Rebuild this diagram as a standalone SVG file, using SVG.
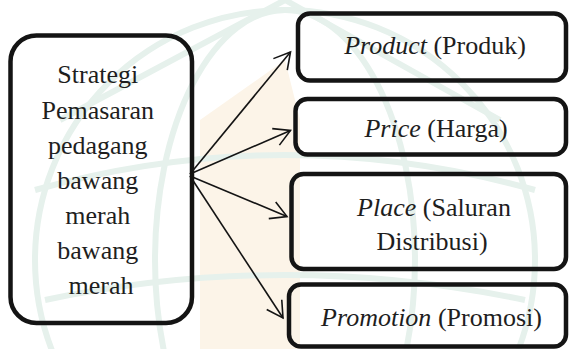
<svg xmlns="http://www.w3.org/2000/svg" width="569" height="349" viewBox="0 0 569 349">
  <style>
    .box { fill: none; stroke: #141414; stroke-width: 4.5; }
    text { font-family: "Liberation Serif", "DejaVu Serif", serif; font-size: 26px; fill: #1e1e1e; text-anchor: middle; }
    .it { font-style: italic; }
    .conn { stroke: #141414; stroke-width: 1.6; fill: none; }
    .wm-g { fill: none; stroke: #e6f1ec; stroke-width: 6; }
    .wm-o { fill: #fcf4e8; }
  </style>
  <defs>
    <marker id="ah" markerWidth="22" markerHeight="22" refX="19" refY="11" orient="auto" markerUnits="userSpaceOnUse" viewBox="0 0 22 22">
      <path d="M3,2 L19,11 L3,20" fill="none" stroke="#141414" stroke-width="1.6"/>
    </marker>
  </defs>
  <rect x="0" y="0" width="569" height="349" fill="#ffffff"/>
  <g id="watermark">
    <path class="wm-o" d="M200,120 L285,60 L300,120 L300,349 L200,349 Z"/>
    <path class="wm-g" d="M60,120 L285,0 L500,120"/>
    <circle class="wm-g" cx="285" cy="260" r="250"/>
    <ellipse class="wm-g" cx="285" cy="260" rx="130" ry="250"/>
    <path class="wm-g" d="M35,190 Q285,120 535,190"/>
    <path class="wm-g" d="M45,300 Q285,250 525,300"/>
  </g>
  <g id="connectors">
    <line class="conn" x1="190" y1="174" x2="290.5" y2="52" marker-end="url(#ah)"/>
    <line class="conn" x1="190" y1="174" x2="290.5" y2="130.5" marker-end="url(#ah)"/>
    <line class="conn" x1="190" y1="176" x2="287" y2="216.5" marker-end="url(#ah)"/>
    <line class="conn" x1="190" y1="176" x2="283" y2="318" marker-end="url(#ah)"/>
  </g>
  <g id="strategi">
    <rect class="box" x="10.5" y="35.5" width="181.5" height="287.5" rx="26"/>
    <text>
      <tspan x="101" y="83">Strategi</tspan>
      <tspan x="101" y="118.5">Pemasaran</tspan>
      <tspan x="101" y="154">pedagang</tspan>
      <tspan x="101" y="189">bawang</tspan>
      <tspan x="101" y="224">merah</tspan>
      <tspan x="101" y="259">bawang</tspan>
      <tspan x="101" y="294">merah</tspan>
    </text>
  </g>
  <g id="product">
    <rect class="box" x="298" y="13.5" width="268" height="67" rx="12"/>
    <text x="435" y="54"><tspan class="it">Product</tspan> (Produk)</text>
  </g>
  <g id="price">
    <rect class="box" x="295.5" y="99" width="270.5" height="55.5" rx="12"/>
    <text x="436" y="137"><tspan class="it">Price</tspan> (Harga)</text>
  </g>
  <g id="place">
    <rect class="box" x="291.5" y="174" width="274.5" height="95" rx="12"/>
    <text><tspan x="434" y="216"><tspan class="it">Place</tspan> (Saluran</tspan><tspan x="432" y="249.5">Distribusi)</tspan></text>
  </g>
  <g id="promotion">
    <rect class="box" x="289" y="284.5" width="277" height="62" rx="12"/>
    <text x="431.5" y="326"><tspan class="it">Promotion</tspan> (Promosi)</text>
  </g>
</svg>
